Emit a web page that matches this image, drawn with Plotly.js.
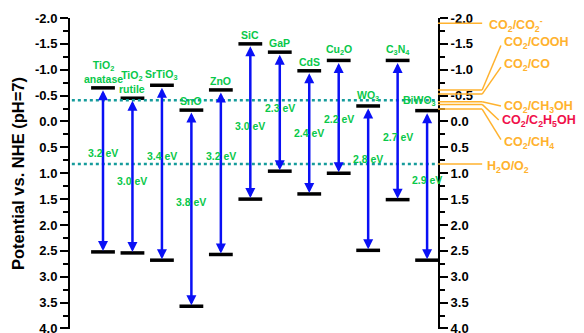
<!DOCTYPE html>
<html>
<head>
<meta charset="utf-8">
<script src="https://cdn.plot.ly/plotly-3.0.1.min.js"></script>
<style>html,body{margin:0;padding:0;background:#fff;}#chart{width:584px;height:333px;}</style>
</head>
<body>
<div id="chart"></div>
<script>
// ---- data ----
const materials = ['TiO2 anatase','TiO2 rutile','SrTiO3','SnO','ZnO','SiC','GaP','CdS','Cu2O','WO3','C3N4','BiWO3'];
const materialLabels = ['TiO<sub>2</sub><br>anatase','TiO<sub>2</sub><br>rutile','SrTiO<sub>3</sub>','SnO','ZnO','SiC','GaP','CdS','Cu<sub>2</sub>O','WO<sub>3</sub>','C<sub>3</sub>N<sub>4</sub>','BiWO<sub>3</sub>'];
const cbEdge = [-0.65,-0.45,-0.70,-0.22,-0.61,-1.50,-1.34,-0.98,-1.18,-0.30,-1.18,-0.21];
const vbEdge = [2.52,2.54,2.68,3.57,2.57,1.50,0.96,1.40,1.00,2.49,1.51,2.68];
const gapLabels = ['3.2 eV','3.0 eV','3.4 eV','3.8 eV','3.2 eV','3.0 eV','2.3 eV','2.4 eV','2.2 eV','2.8 eV','2.7 eV','2.9 eV'];
const gapLabelY = [0.61,1.15,0.67,1.56,0.67,0.08,-0.26,0.22,-0.05,0.73,0.30,1.14];

const waterLevels = [-0.41, 0.82];

const redoxLabels = ['CO<sub>2</sub>/CO<sub>2</sub><sup>-</sup>','CO<sub>2</sub>/COOH','CO<sub>2</sub>/CO','CO<sub>2</sub>/CH<sub>3</sub>OH','CO<sub>2</sub>/C<sub>2</sub>H<sub>5</sub>OH','CO<sub>2</sub>/CH<sub>4</sub>','H<sub>2</sub>O/O<sub>2</sub>'];
const redoxLevels = [-1.9,-0.61,-0.53,-0.38,-0.33,-0.24,0.82];
const redoxLabelY = [-1.87,-1.51,-1.09,-0.28,0.0,0.41,0.87];
const redoxLineEndY = [-1.9,-1.47,-1.05,-0.30,-0.03,0.35,0.82];
const redoxColors = ['#FFB22E','#FFB22E','#FFB22E','#FFB22E','#F0104A','#FFB22E','#FFB22E'];
const redoxLabelX = [1.133,1.174,1.174,1.174,1.168,1.174,1.128];

const tickVals = [-2,-1.5,-1,-0.5,0,0.5,1,1.5,2,2.5,3,3.5,4];
const tickText = ['-2.0','-1.5','-1.0','-0.5','0.0','0.5','1.0','1.5','2.0','2.5','3.0','3.5','4.0'];

// ---- styles ----
const green = '#08C84A';
const blue = '#0A10F5';
const orange = '#FFB22E';
const teal = '#169C9C';
const FONT = 'Liberation Sans, Arial, sans-serif';

const traces = [
  {x: materials, y: cbEdge, type:'scatter', mode:'markers', hoverinfo:'skip',
   marker:{symbol:'line-ew', size:17, line:{width:3.5, color:'#000'}}},
  {x: materials, y: vbEdge, type:'scatter', mode:'markers', hoverinfo:'skip',
   marker:{symbol:'line-ew', size:17, line:{width:3.5, color:'#000'}}},
  {x: [materials[0]], y: [0], yaxis:'y2', type:'scatter', mode:'markers', hoverinfo:'skip',
   marker:{opacity:0}}
];

const annotations = [];
materials.forEach((m,i)=>{
  annotations.push({x:m, y:vbEdge[i], ax:m, ay:cbEdge[i], xref:'x', yref:'y', axref:'x', ayref:'y',
    text:'', showarrow:true, arrowhead:2, startarrowhead:2, arrowside:'end+start',
    arrowsize:0.8, startarrowsize:0.8, arrowwidth:2.5, arrowcolor:blue, standoff:1, startstandoff:1});
  annotations.push({x:m, y:cbEdge[i], xref:'x', yref:'y', text:materialLabels[i], showarrow:false,
    yanchor:'bottom', yshift:1, xshift:(i===11?-8:0),
    font:{family:FONT, size:10.5, color:green, weight:'bold'}});
  annotations.push({x:m, y:gapLabelY[i], xref:'x', yref:'y', text:gapLabels[i], showarrow:false,
    font:{family:FONT, size:10.5, color:green, weight:'bold'}});
});
redoxLabels.forEach((t,i)=>{
  annotations.push({x:redoxLabelX[i], y:redoxLabelY[i], xref:'paper', yref:'y', text:t, showarrow:false,
    xanchor:'left', yanchor:'middle',
    font:{family:FONT, size:12.5, color:redoxColors[i], weight:'bold'}});
});

const shapes = [];
waterLevels.forEach(v=>{
  shapes.push({type:'line', xref:'paper', yref:'y', x0:0.005, x1:1, y0:v, y1:v,
    line:{color:teal, width:2.5, dash:'dot'}});
});
redoxLevels.forEach((v,i)=>{
  shapes.push({type:'line', xref:'paper', yref:'y', x0:1.0, x1:1.12, y0:v, y1:v,
    line:{color:orange, width:1.5}});
  if (Math.abs(redoxLineEndY[i]-v) > 1e-9) {
    shapes.push({type:'line', xref:'paper', yref:'y', x0:1.12, x1:redoxLabelX[i]-0.003, y0:v, y1:redoxLineEndY[i],
      line:{color:orange, width:1.5}});
  }
});

const yCommon = {
  range:[4.01,-2], autorange:false, tickmode:'array', tickvals:tickVals, ticktext:tickText,
  ticks:'outside', ticklen:8, tickwidth:2, tickcolor:'#000', ticklabeloverflow:'allow',
  showline:true, linewidth:2, linecolor:'#000', showgrid:false, zeroline:false,
  minor:{tickmode:'linear', tick0:0, dtick:0.25, ticks:'outside', ticklen:5, tickwidth:2, tickcolor:'#000', showgrid:false},
  tickfont:{family:FONT, size:13, color:'#000', weight:'bold'}, fixedrange:true
};

const layout = {
  width:584, height:333,
  margin:{l:70, r:146, t:18, b:4},
  paper_bgcolor:'#fff', plot_bgcolor:'#fff',
  showlegend:false,
  xaxis:{type:'category', range:[-1.12, 11.37], autorange:false, visible:false, fixedrange:true},
  yaxis:Object.assign({}, yCommon, {
    title:{text:'Potential vs. NHE (pH=7)', standoff:6, font:{family:FONT, size:16.5, color:'#000', weight:'bold'}}
  }),
  yaxis2:Object.assign({}, yCommon, {overlaying:'y', side:'right', anchor:'x'}),
  annotations: annotations,
  shapes: shapes
};

Plotly.newPlot('chart', traces, layout, {staticPlot:true, displayModeBar:false});
</script>
</body>
</html>
